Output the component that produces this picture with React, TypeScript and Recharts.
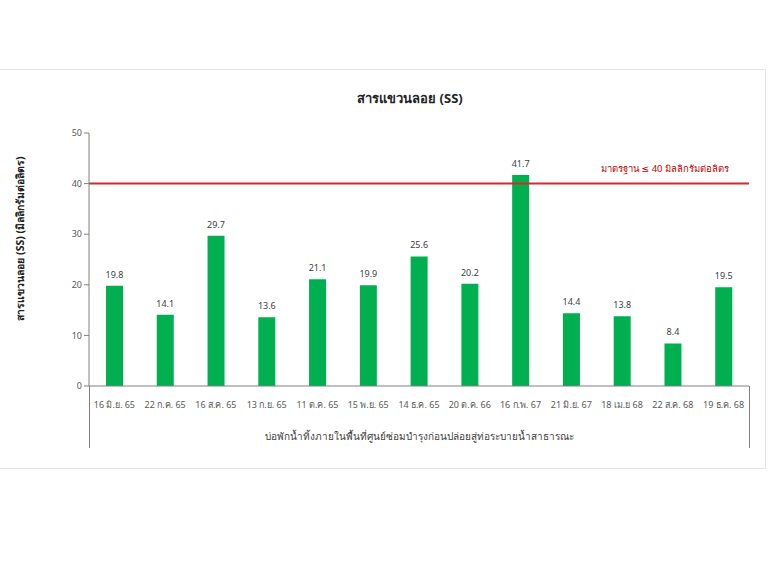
import React from "react";
import { BarChart, Bar, XAxis, YAxis, ReferenceLine, LabelList, Label } from "recharts";

const categories = [
  "16 มิ.ย. 65", "22 ก.ค. 65", "16 ส.ค. 65", "13 ก.ย. 65", "11 ต.ค. 65",
  "15 พ.ย. 65", "14 ธ.ค. 65", "20 ต.ค. 66", "16 ก.พ. 67", "21 มิ.ย. 67",
  "18 เม.ย 68", "22 ส.ค. 68", "19 ธ.ค. 68",
];
const ssValues = [19.8, 14.1, 29.7, 13.6, 21.1, 19.9, 25.6, 20.2, 41.7, 14.4, 13.8, 8.4, 19.5];
const yTicks = [0, 10, 20, 30, 40, 50];
const standardValue = 40;
const title = "สารแขวนลอย (SS)";
const yTitle = "สารแขวนลอย (SS) (มิลลิกรัมต่อลิตร)";
const xTitle = "บ่อพักน้ำทิ้งภายในพื้นที่ศูนย์ซ่อมบำรุงก่อนปล่อยสู่ท่อระบายน้ำสาธารณะ";
const standardLabel = "มาตรฐาน ≤ 40 มิลลิกรัมต่อลิตร";

const data = categories.map((c, i) => ({ name: c, ss: ssValues[i] }));

const FONT = "Tahoma, 'Noto Sans', 'DejaVu Sans', sans-serif";

export default function App() {
  return (
    <div style={{ position: "absolute", left: 0, top: 0, width: 768, height: 576, background: "#fff", fontFamily: FONT, overflow: "hidden" }}>
      <div style={{ position: "absolute", left: -2, top: 69, width: 766, height: 398, border: "1px solid #e4e4e4" }} />
      <div style={{ position: "absolute", left: 0, top: 88, width: 820, textAlign: "center", fontSize: 13, fontWeight: "bold", color: "#222" }}>{title}</div>
      <div style={{ position: "absolute", left: -130, top: 230, width: 300, textAlign: "center", fontSize: 10.5, fontWeight: "bold", color: "#222", transform: "rotate(-90deg)", transformOrigin: "center center", whiteSpace: "nowrap" }}>{yTitle}</div>
      <div style={{ position: "absolute", left: 89, top: 386, width: 1, height: 62, background: "#808080" }} />
      <div style={{ position: "absolute", left: 749, top: 386, width: 1, height: 62, background: "#808080" }} />
      <div style={{ position: "absolute", left: 89, top: 429, width: 660, textAlign: "center", fontSize: 10, color: "#404040" }}>{xTitle}</div>
      <BarChart width={768} height={576} data={data} margin={{ top: 133, right: 19, bottom: 160, left: 29 }} style={{ position: "absolute", left: 0, top: 0 }}>
        <XAxis dataKey="name" height={30} interval={0} tickLine={false} axisLine={{ stroke: "#808080" }} tick={{ fontSize: 9, fill: "#595959", fontFamily: FONT }} tickMargin={10} />
        <YAxis domain={[0, 50]} ticks={yTicks} width={60} axisLine={{ stroke: "#808080" }} tickLine={{ stroke: "#808080" }} tickSize={5} tick={{ fontSize: 9, fill: "#595959", fontFamily: FONT }} />
        <Bar dataKey="ss" fill="#00B050" barSize={17} isAnimationActive={false}>
          <LabelList dataKey="ss" position="top" offset={8} style={{ fontSize: 9, fill: "#404040", fontFamily: FONT }} />
        </Bar>
        <ReferenceLine y={standardValue} stroke="#D42A2A" strokeWidth={2} ifOverflow="extendDomain">
          <Label value={standardLabel} position="insideTopRight" offset={0} dy={-18} dx={-20} style={{ fontSize: 9.5, fill: "#C00000", fontFamily: FONT }} />
        </ReferenceLine>
      </BarChart>
    </div>
  );
}
